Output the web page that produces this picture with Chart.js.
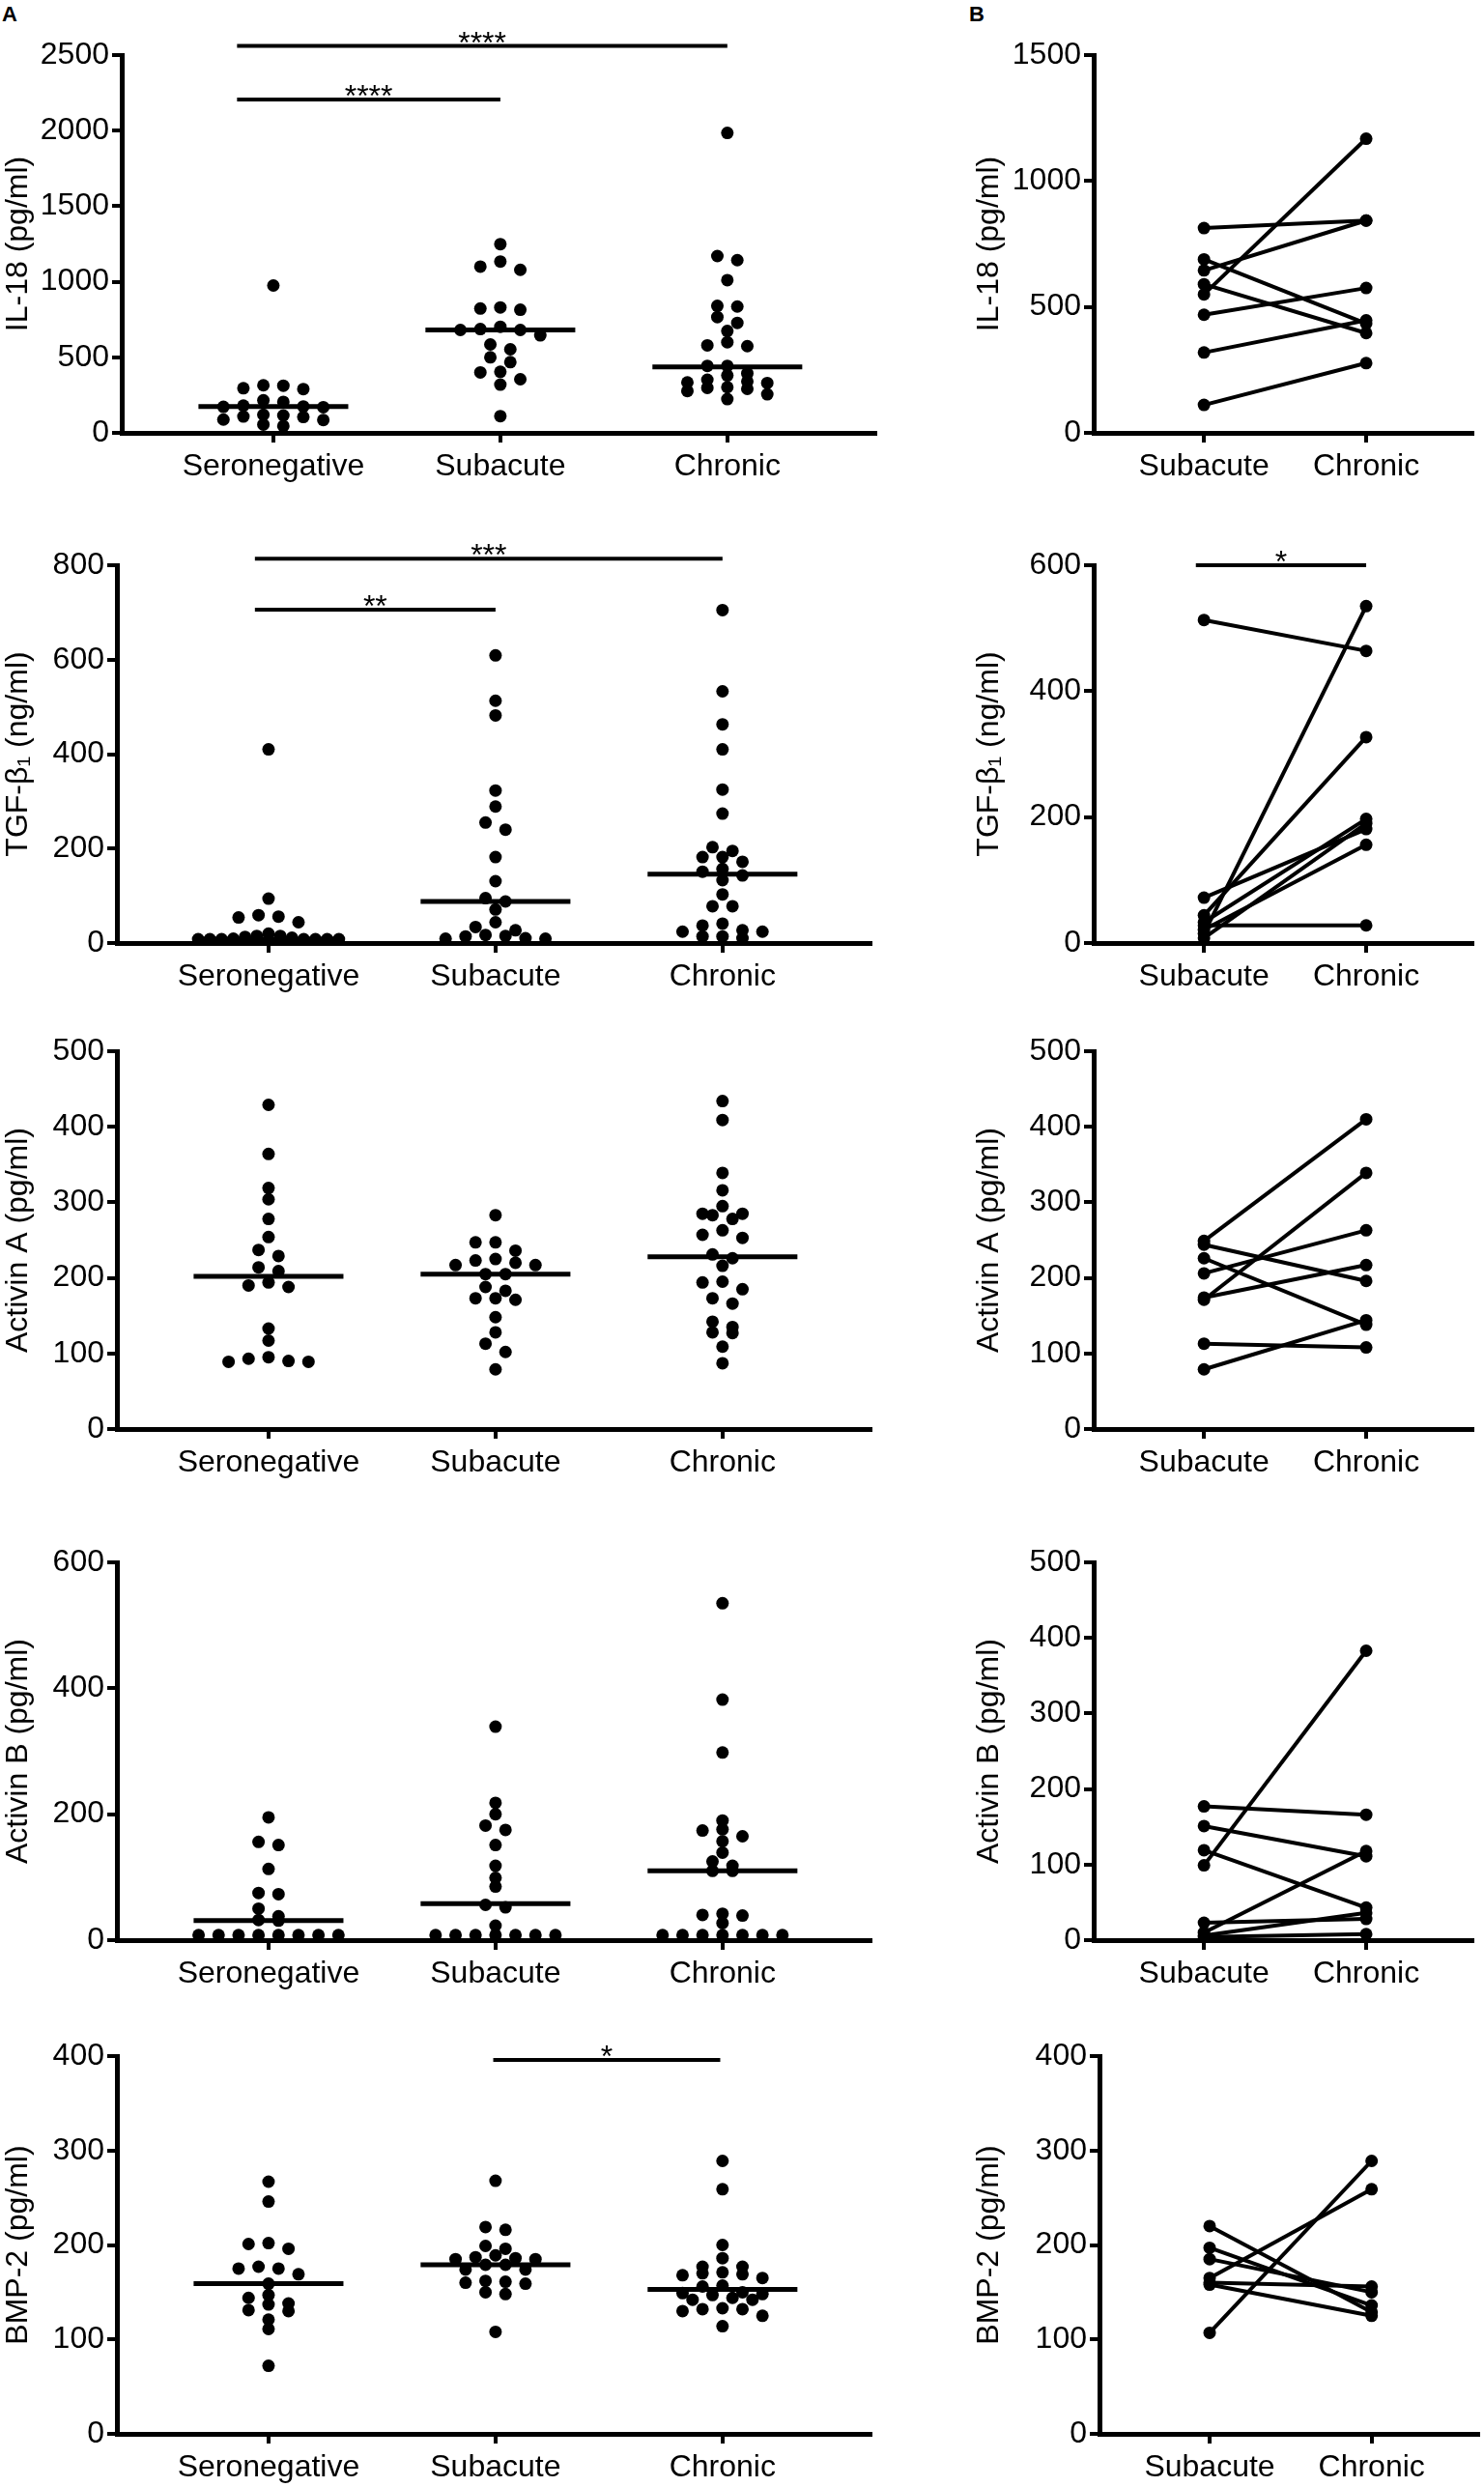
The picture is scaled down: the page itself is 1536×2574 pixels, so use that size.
<!DOCTYPE html>
<html>
<head>
<meta charset="utf-8">
<title>Serum cytokines by group</title>
<script src="https://cdn.jsdelivr.net/npm/chart.js@4.4.1/dist/chart.umd.min.js"></script>
<style>
  html, body { margin: 0; padding: 0; background: #fff; }
  body { position: relative; width: 1536px; height: 2574px; font-family: "Liberation Sans", Arial, sans-serif; }
  .panel { position: absolute; }
  .letter { position: absolute; font-weight: bold; font-size: 22px; line-height: 1; }
</style>
</head>
<body>
<div class="letter" style="left:2px;top:4px">A</div>
<div class="letter" style="left:1003px;top:4px">B</div>

<script>
// group names
const groupsA = ['Seronegative', 'Subacute', 'Chronic'];
const groupsB = ['Subacute', 'Chronic'];

// IL-18 (pg/ml)
const il18Seroneg = [975, 315, 295, 312, 290, 215, 205, 180, 175, 172, 170, 120, 105, 108, 115, 85, 88, 55, 45];
const il18Subacute = [1249, 1100, 1134, 1079, 815, 830, 823, 645, 681, 702, 681, 687, 585, 553, 500, 468, 400, 404, 355, 319, 111];
const il18Chronic = [1985, 1170, 1143, 1011, 840, 836, 766, 728, 674, 600, 574, 579, 443, 443, 394, 340, 334, 351, 330, 298, 291, 277, 255, 223, 380, 302];
const il18Medians = [174, 681, 436];
const il18PairSubacute = [813, 550, 645, 689, 590, 469, 319, 111];
const il18PairChronic = [843, 1168, 843, 434, 396, 575, 447, 277];

// TGF-beta1 (ng/ml)
const tgfSeroneg = [410, 94, 54, 59, 56, 44, 9, 20, 13, 15, 8, 15, 8, 8, 8, 8, 11, 8, 8];
const tgfSubacute = [609, 513, 482, 323, 289, 255, 240, 182, 131, 88, 95, 71, 44, 34, 27, 17, 14, 15, 10, 9, 9];
const tgfChronic = [705, 533, 463, 410, 325, 274, 203, 195, 172, 182, 182, 157, 151, 143, 133, 103, 78, 78, 41, 37, 24, 27, 24, 14, 14, 10];
const tgfMedians = [8, 88, 146];
const tgfPairSubacute = [513, 72, 44, 33, 28, 21, 15, 8];
const tgfPairChronic = [464, 181, 327, 197, 28, 156, 535, 190];

// Activin A (pg/ml)
const actASeroneg = [429, 364, 319, 304, 278, 254, 237, 229, 214, 209, 194, 190, 188, 133, 117, 95, 93, 90, 89, 89];
const actASubacute = [283, 247, 247, 236, 225, 223, 217, 220, 217, 205, 205, 188, 183, 173, 171, 173, 148, 128, 113, 102, 79];
const actAChronic = [434, 409, 339, 316, 295, 285, 285, 283, 278, 263, 257, 253, 231, 226, 216, 195, 194, 185, 173, 166, 142, 135, 128, 127, 109, 87];
const actAMedians = [202, 205, 228];
const actAPairSubacute = [249, 244, 226, 206, 174, 171, 113, 79];
const actAPairChronic = [410, 196, 138, 263, 217, 339, 108, 144];

// Activin B (pg/ml)
const actBSeroneg = [195, 151, 156, 113, 73, 75, 50, 38, 31, 32, 8, 8, 8, 8, 8, 8, 8, 8];
const actBSubacute = [339, 218, 200, 175, 182, 151, 118, 85, 99, 52, 56, 23, 8, 8, 8, 8, 8, 8, 8];
const actBChronic = [535, 382, 298, 190, 176, 174, 165, 157, 139, 125, 118, 110, 110, 39, 40, 42, 27, 8, 8, 8, 8, 8, 8, 8];
const actBMedians = [31, 58, 110];
const actBPairSubacute = [177, 151, 119, 99, 23, 10, 6, 4];
const actBPairChronic = [166, 111, 43, 383, 28, 118, 36, 8];

// BMP-2 (pg/ml)
const bmpSeroneg = [267, 246, 201, 202, 196, 177, 175, 175, 169, 159, 147, 144, 138, 137, 131, 130, 121, 111, 72];
const bmpSubacute = [268, 219, 216, 196, 199, 186, 189, 187, 185, 185, 179, 179, 174, 174, 162, 161, 159, 160, 148, 150, 108];
const bmpChronic = [289, 259, 200, 186, 177, 177, 171, 169, 170, 168, 165, 156, 157, 149, 148, 147, 150, 142, 142, 144, 132, 133, 132, 130, 125, 114];
const bmpMedians = [159, 179, 153];
const bmpPairSubacute = [220, 197, 185, 165, 160, 158, 107];
const bmpPairChronic = [129, 136, 150, 259, 156, 125, 289];

// layout constants (page pixels)
const PLOT_H = 391;
const PAD_TOP = 60;
const XAXIS_H = 80;
const DOT_R = 6.5;
const SWARM_STEP = 0.088;   // category units between neighbouring dots
const SWARM_MAX = 0.62;     // widest a row of dots may get
const ROW_TOL = 9;          // px: values closer than this share a row

Chart.defaults.font.family = '"Liberation Sans", Arial, Helvetica, sans-serif';
Chart.defaults.font.size = 32;
Chart.defaults.color = '#000';

const panelsA = [
  { top: 57,   yWidth: 126, title: 'IL-18 (pg/ml)', max: 2500, step: 500,
    groups: [il18Seroneg, il18Subacute, il18Chronic], medians: il18Medians,
    sig: [{ from: -0.16, to: 2, y: 2560, label: '****' }, { from: -0.16, to: 1, y: 2206, label: '****' }] },
  { top: 585,  yWidth: 121, title: 'TGF-\u03b2\u2081 (ng/ml)', max: 800, step: 200,
    groups: [tgfSeroneg, tgfSubacute, tgfChronic], medians: tgfMedians,
    sig: [{ from: -0.06, to: 2, y: 814, label: '***' }, { from: -0.06, to: 1, y: 706, label: '**' }] },
  { top: 1088, yWidth: 121, title: 'Activin A (pg/ml)', max: 500, step: 100,
    groups: [actASeroneg, actASubacute, actAChronic], medians: actAMedians, sig: [] },
  { top: 1617, yWidth: 121, title: 'Activin B (pg/ml)', max: 600, step: 200,
    groups: [actBSeroneg, actBSubacute, actBChronic], medians: actBMedians, sig: [] },
  { top: 2128, yWidth: 121, title: 'BMP-2 (pg/ml)', max: 400, step: 100,
    groups: [bmpSeroneg, bmpSubacute, bmpChronic], medians: bmpMedians,
    sig: [{ from: 0.99, to: 1.99, y: 396, label: '*' }] }
];

const panelsB = [
  { top: 57,   yWidth: 127, title: 'IL-18 (pg/ml)', max: 1500, step: 500,
    before: il18PairSubacute, after: il18PairChronic, sig: [] },
  { top: 585,  yWidth: 127, title: 'TGF-\u03b2\u2081 (ng/ml)', max: 600, step: 200,
    before: tgfPairSubacute, after: tgfPairChronic, sig: [{ from: -0.05, to: 1, y: 600, label: '*' }] },
  { top: 1088, yWidth: 127, title: 'Activin A (pg/ml)', max: 500, step: 100,
    before: actAPairSubacute, after: actAPairChronic, sig: [] },
  { top: 1617, yWidth: 127, title: 'Activin B (pg/ml)', max: 500, step: 100,
    before: actBPairSubacute, after: actBPairChronic, sig: [] },
  { top: 2128, yWidth: 133, title: 'BMP-2 (pg/ml)', max: 400, step: 100,
    before: bmpPairSubacute, after: bmpPairChronic, sig: [] }
];

// GraphPad-like scatter: rows of similar values, spread centre-out
function swarm(values, center, pxPerUnit) {
  const sorted = values.slice().sort((a, b) => b - a);
  const rows = [];
  sorted.forEach(v => {
    const row = rows[rows.length - 1];
    if (row && (row[0] - v) * pxPerUnit < ROW_TOL) row.push(v);
    else rows.push([v]);
  });
  const pts = [];
  rows.forEach(row => {
    const n = row.length;
    const s = n > 1 ? Math.min(SWARM_STEP, SWARM_MAX / (n - 1)) : 0;
    const slots = [];
    for (let i = 0; i < n; i++) slots.push((i - (n - 1) / 2) * s);
    slots.sort((a, b) => Math.abs(a) - Math.abs(b) || a - b);
    row.forEach((v, i) => pts.push({ x: center + slots[i], y: v }));
  });
  return pts;
}

function sigPlugin(bars) {
  return {
    id: 'sigBars',
    afterDatasetsDraw(chart) {
      const { ctx, scales: { x, y } } = chart;
      ctx.save();
      bars.forEach(b => {
        const x1 = x.getPixelForValue(b.from);
        const x2 = x.getPixelForValue(b.to);
        const yy = y.getPixelForValue(b.y);
        ctx.strokeStyle = '#000';
        ctx.lineWidth = 4;
        ctx.beginPath();
        ctx.moveTo(x1, yy);
        ctx.lineTo(x2, yy);
        ctx.stroke();
        ctx.fillStyle = '#000';
        ctx.font = '32px "Liberation Sans", Arial, sans-serif';
        ctx.textAlign = 'center';
        ctx.textBaseline = 'alphabetic';
        ctx.fillText(b.label, (x1 + x2) / 2, yy + 7);
      });
      ctx.restore();
    }
  };
}

function axisStyle() {
  return {
    border: { display: true, color: '#000', width: 5 },
    grid: { display: true, drawOnChartArea: false, drawTicks: true, tickLength: 10, color: '#000', lineWidth: 4 }
  };
}

function makeScales(p, names, xMin, xMax) {
  return {
    x: Object.assign(axisStyle(), {
      type: 'linear', min: xMin, max: xMax,
      afterBuildTicks: s => { s.ticks = names.map((n, i) => ({ value: i })); },
      afterFit: s => { s.height = XAXIS_H; },
      ticks: { padding: 6, autoSkip: false, maxRotation: 0, callback: v => names[v] }
    }),
    y: Object.assign(axisStyle(), {
      type: 'linear', min: 0, max: p.max,
      afterFit: s => { s.width = p.yWidth; },
      ticks: { stepSize: p.step, padding: 3, autoSkip: false, callback: v => String(v) },
      title: { display: true, text: p.title, padding: 0, font: { size: 32 } }
    })
  };
}

function addCanvas(left, top, width) {
  const div = document.createElement('div');
  div.className = 'panel';
  div.style.left = left + 'px';
  div.style.top = (top - PAD_TOP) + 'px';
  div.style.width = width + 'px';
  div.style.height = (PAD_TOP + PLOT_H + XAXIS_H) + 'px';
  const canvas = document.createElement('canvas');
  div.appendChild(canvas);
  document.body.appendChild(div);
  return canvas;
}

function baseOptions(p, names, xMin, xMax, padRight) {
  return {
    responsive: true,
    maintainAspectRatio: false,
    animation: false,
    layout: { padding: { top: PAD_TOP, right: padRight, bottom: 0, left: 0 } },
    plugins: { legend: { display: false }, tooltip: { enabled: false } },
    scales: makeScales(p, names, xMin, xMax)
  };
}

// column A: scatter with medians
function drawPanelA(p) {
  const width = 940;
  const canvas = addCanvas(0, p.top, width);
  const pxPerUnit = PLOT_H / p.max;
  const datasets = [];
  p.groups.forEach((vals, i) => {
    datasets.push({
      type: 'scatter',
      data: swarm(vals, i, pxPerUnit),
      pointRadius: DOT_R,
      pointBackgroundColor: '#000',
      pointBorderWidth: 0,
      clip: false
    });
    datasets.push({
      type: 'line',
      data: [{ x: i - 0.33, y: p.medians[i] }, { x: i + 0.33, y: p.medians[i] }],
      borderColor: '#000',
      borderWidth: 5,
      pointRadius: 0,
      clip: false
    });
  });
  new Chart(canvas, {
    type: 'scatter',
    data: { datasets: datasets },
    options: baseOptions(p, groupsA, -0.668, 2.652, width - p.yWidth - 780),
    plugins: [sigPlugin(p.sig)]
  });
}

// column B: paired before/after lines
function drawPanelB(p) {
  const left = 1005;
  const width = 531;
  const canvas = addCanvas(left, p.top, width);
  const datasets = p.before.map((v, i) => ({
    type: 'line',
    data: [{ x: 0, y: v }, { x: 1, y: p.after[i] }],
    borderColor: '#000',
    borderWidth: 4,
    pointRadius: DOT_R,
    pointBackgroundColor: '#000',
    pointBorderWidth: 0,
    clip: false
  }));
  new Chart(canvas, {
    type: 'scatter',
    data: { datasets: datasets },
    options: baseOptions(p, groupsB, -0.68, 1.655, width - p.yWidth - 392),
    plugins: [sigPlugin(p.sig)]
  });
}

panelsA.forEach(drawPanelA);
panelsB.forEach(drawPanelB);
</script>
</body>
</html>
